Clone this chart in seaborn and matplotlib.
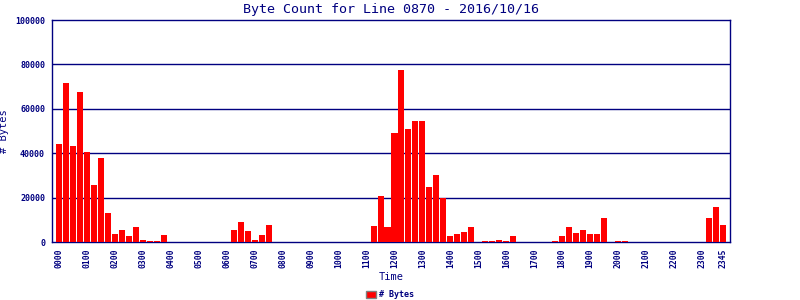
import matplotlib
matplotlib.use("Agg")
import matplotlib.pyplot as plt
import matplotlib.patches as mpatches
import seaborn as sns
import pandas as pd

# 15-minute time slots for the day
times = [f"{h:02d}{m:02d}" for h in range(24) for m in (0, 15, 30, 45)]

byte_counts = [
    44000, 71600, 43100, 67500, 40400, 25600, 37700, 13000,   # 00xx-01xx
    3600, 5500, 2850, 6700, 1050, 600, 600, 3150,             # 02xx-03xx
    0, 0, 0, 0, 0, 0, 0, 0,                                   # 04xx-05xx
    0, 5400, 9000, 4950, 900, 3150, 7650, 0,                  # 06xx-07xx
    0, 0, 0, 0, 0, 0, 0, 0,                                   # 08xx-09xx
    0, 0, 0, 0, 0, 7300, 20800, 6800,                         # 10xx-11xx
    48900, 77700, 50700, 54300, 54300, 24900, 30400, 20000,   # 12xx-13xx
    2850, 3750, 4600, 6800, 0, 450, 450, 900,                 # 14xx-15xx
    450, 2700, 0, 0, 0, 0, 0, 450,                            # 16xx-17xx
    2700, 6750, 4050, 5400, 3600, 3600, 10800, 0,             # 18xx-19xx
    450, 450, 0, 0, 0, 0, 0, 0,                               # 20xx-21xx
    0, 0, 0, 0, 0, 10800, 15750, 7650,                        # 22xx-23xx
]

tick_labels = ["0000", "0100", "0200", "0300", "0400", "0500", "0600", "0700",
               "0800", "0900", "1000", "1100", "1200", "1300", "1400", "1500",
               "1600", "1700", "1800", "1900", "2000", "2100", "2200", "2300",
               "2345"]
y_ticks = [0, 20000, 40000, 60000, 80000, 100000]

title = "Byte Count for Line 0870 - 2016/10/16"
series_name = "# Bytes"

df = pd.DataFrame({"Time": times, "Bytes": byte_counts})

navy = "#000080"
sns.set_style("white")
plt.rcParams["font.family"] = ["DejaVu Sans Mono"]

fig = plt.figure(figsize=(8, 3), dpi=100)
ax = fig.add_axes([0.065, 0.1933, 0.8475, 0.74])

sns.barplot(data=df, x="Time", y="Bytes", order=times, color="#FF0000",
            saturation=1, width=0.86, linewidth=0, ax=ax, zorder=3)

ax.set_ylim(0, 100000)
ax.set_xlim(-1.0, 96.0)
ax.set_yticks(y_ticks)
ax.set_yticklabels([str(v) for v in y_ticks], fontsize=6, color=navy,
                   fontweight="bold")
ax.set_xticks([times.index(t) for t in tick_labels])
ax.set_xticklabels(tick_labels, rotation=90, fontsize=5.8, color=navy,
                   fontweight="bold")
ax.tick_params(axis="y", length=0, pad=5)
ax.tick_params(axis="x", length=0, pad=5)

for v in y_ticks[1:-1]:
    ax.axhline(v, color=navy, lw=1, zorder=1)

for s in ax.spines.values():
    s.set_visible(True)
    s.set_color(navy)
    s.set_linewidth(1)

ax.set_xlabel("Time", fontsize=7.5, color=navy)
ax.xaxis.set_label_coords(0.5, -0.135)
ax.set_ylabel(series_name, fontsize=7.5, color=navy)
ax.yaxis.set_label_coords(-0.063, 0.5)
ax.set_title(title, fontsize=9.6, color=navy, pad=5)

handle = mpatches.Patch(facecolor="#FF0000", edgecolor="#808080", lw=1,
                        label=series_name)
leg = fig.legend(handles=[handle], loc="center", bbox_to_anchor=(0.4875, 0.017),
                 frameon=False, fontsize=6, handlelength=1.2, handleheight=0.9,
                 handletextpad=0.4)
for t in leg.get_texts():
    t.set_color(navy)
    t.set_fontweight("bold")

fig.savefig("out.png", dpi=100)
